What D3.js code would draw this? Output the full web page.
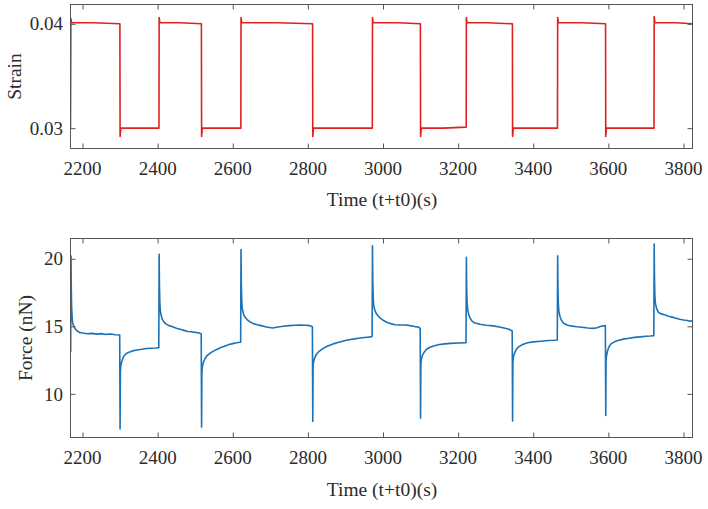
<!DOCTYPE html>
<html>
<head>
<meta charset="utf-8">
<script src="https://cdn.jsdelivr.net/npm/d3@7/dist/d3.min.js"></script>
<style>
  html, body { margin: 0; padding: 0; background: #fff; }
  svg { display: block; }
  text { font-family: "Liberation Serif", "Times New Roman", serif; fill: #2b2b2b; }
</style>
</head>
<body>
<svg id="chart" width="708" height="509"></svg>
<script>
// ---------- data ----------
const timeTicks = [2200, 2400, 2600, 2800, 3000, 3200, 3400, 3600, 3800];
const strainTicks = [0.03, 0.04];
const forceTicks = [10, 15, 20];

const strainTime = [2168, 2169, 2171, 2230, 2299.5, 2300, 2302, 2350, 2403.5, 2404, 2406, 2460, 2516.5, 2517, 2519, 2570, 2621.5, 2622, 2624, 2720, 2812.5, 2813, 2815, 2890, 2971.5, 2972, 2974, 3040, 3099.5, 3100, 3102, 3160, 3221.5, 3222, 3224, 3280, 3344.5, 3345, 3347, 3400, 3464.5, 3465, 3467, 3530, 3592.5, 3593, 3595, 3660, 3721.5, 3722, 3724, 3780, 3824];
const strainValue = [0.0300, 0.0405, 0.0401, 0.0401, 0.0400, 0.0292, 0.0300, 0.0300, 0.0300, 0.0406, 0.0401, 0.0401, 0.0400, 0.0292, 0.0300, 0.0300, 0.0300, 0.0406, 0.0401, 0.0401, 0.0400, 0.0292, 0.0300, 0.0300, 0.0300, 0.0406, 0.0401, 0.0401, 0.0400, 0.0292, 0.0300, 0.0300, 0.0301, 0.0406, 0.0401, 0.0401, 0.0400, 0.0292, 0.0300, 0.0300, 0.0300, 0.0406, 0.0401, 0.0401, 0.0400, 0.0292, 0.0300, 0.0300, 0.0300, 0.0407, 0.0401, 0.0401, 0.0400];

const forceTime = [
  2168.5, 2169.3, 2170, 2171, 2172.5, 2174, 2177, 2181, 2186, 2192, 2200, 2212, 2225, 2238, 2250, 2262, 2275, 2287, 2299,
  2300, 2300.8, 2302, 2305, 2309, 2315, 2322, 2333, 2345, 2358, 2370, 2383, 2395, 2403,
  2404, 2404.8, 2405.8, 2407, 2409, 2412, 2416, 2422, 2430, 2440, 2450, 2460, 2470, 2480, 2490, 2500, 2508, 2516,
  2517, 2517.8, 2519, 2522, 2526, 2531, 2540, 2550, 2560, 2570, 2580, 2590, 2600, 2610, 2621,
  2622, 2622.8, 2623.8, 2625, 2628, 2632, 2638, 2645, 2655, 2665, 2675, 2690, 2706, 2720, 2735, 2750, 2765, 2780, 2795, 2805, 2812,
  2813, 2813.8, 2815, 2818, 2822, 2830, 2840, 2850, 2860, 2870, 2880, 2892, 2905, 2920, 2935, 2950, 2962, 2971,
  2972, 2972.8, 2973.8, 2975, 2978, 2983, 2991, 3000, 3010, 3020, 3032, 3045, 3060, 3072, 3085, 3094, 3099,
  3100, 3100.8, 3102, 3105, 3110, 3116, 3125, 3135, 3150, 3165, 3180, 3200, 3221,
  3222, 3222.8, 3223.8, 3225, 3228, 3232, 3237, 3245, 3258, 3275, 3293, 3310, 3325, 3335, 3344,
  3345, 3345.8, 3347, 3350, 3355, 3362, 3372, 3385, 3400, 3420, 3440, 3455, 3464,
  3465, 3465.8, 3466.8, 3468, 3471, 3475, 3481, 3490, 3500, 3516, 3530, 3545, 3560, 3570, 3580, 3592,
  3593, 3593.8, 3595, 3598, 3602, 3608, 3616, 3628, 3640, 3655, 3670, 3685, 3700, 3712, 3721,
  3722, 3722.8, 3723.8, 3725, 3728, 3733, 3740, 3750, 3760, 3770, 3780, 3790, 3800, 3810, 3817, 3824];
const forceValue = [
  13.1, 20.2, 18.0, 16.4, 15.6, 15.2, 15.0, 14.8, 14.65, 14.55, 14.5, 14.45, 14.48, 14.42, 14.46, 14.4, 14.43, 14.38, 14.36,
  7.4, 11.6, 12.1, 12.45, 12.75, 12.95, 13.07, 13.18, 13.25, 13.3, 13.36, 13.38, 13.4, 13.42,
  20.33, 18.0, 16.8, 16.2, 15.85, 15.55, 15.35, 15.18, 15.05, 14.97, 14.85, 14.78, 14.7, 14.62, 14.6, 14.55, 14.52, 14.45,
  7.54, 11.6, 12.0, 12.35, 12.6, 12.82, 13.02, 13.18, 13.32, 13.45, 13.55, 13.65, 13.72, 13.78, 13.82,
  20.69, 18.2, 17.0, 16.4, 15.95, 15.7, 15.5, 15.34, 15.2, 15.12, 15.05, 14.95, 14.88, 14.95, 15.0, 15.05, 15.08, 15.1, 15.08, 15.05, 14.97,
  7.95, 12.0, 12.35, 12.65, 12.9, 13.15, 13.35, 13.5, 13.62, 13.72, 13.8, 13.9, 13.99, 14.05, 14.12, 14.17, 14.2, 14.24,
  20.96, 18.4, 17.2, 16.6, 16.2, 15.9, 15.65, 15.45, 15.3, 15.2, 15.12, 15.1, 15.1, 15.05, 14.98, 14.95, 14.85,
  8.2, 12.2, 12.55, 12.85, 13.1, 13.3, 13.45, 13.55, 13.65, 13.7, 13.74, 13.77, 13.79,
  20.1, 17.8, 16.8, 16.3, 15.9, 15.6, 15.38, 15.25, 15.15, 15.08, 15.03, 14.95, 14.85, 14.78, 14.66,
  8.0, 12.3, 12.7, 13.0, 13.3, 13.5, 13.65, 13.78, 13.85, 13.9, 13.95, 13.97, 13.99,
  20.22, 17.8, 16.7, 16.15, 15.75, 15.45, 15.22, 15.1, 15.03, 14.97, 14.93, 14.88, 14.85, 14.9, 15.0, 15.05,
  8.4, 12.4, 12.8, 13.2, 13.5, 13.72, 13.85, 13.97, 14.05, 14.12, 14.18, 14.22, 14.26, 14.28, 14.31,
  21.09, 18.6, 17.3, 16.75, 16.35, 16.05, 15.92, 15.85, 15.75, 15.68, 15.6, 15.52, 15.47, 15.43, 15.38, 15.42];

// ---------- layout ----------
const svg = d3.select("#chart");
const xLeft = 70.5, xRight = 692.5;
const x = d3.scaleLinear().domain([2168, 3824]).range([xLeft, xRight]);

const panels = [
  { top: 4.5, bottom: 148.5, domain: [0.02805, 0.04185], ticks: strainTicks, fmt: d3.format(".2f"),
    times: strainTime, values: strainValue, color: "#e0201e", ylabel: "Strain", ylabelX: 21,
    xTickY: 175, xTitleY: 206 },
  { top: 238.5, bottom: 437.5, domain: [6.77, 21.5], ticks: forceTicks, fmt: d3.format("d"),
    times: forceTime, values: forceValue, color: "#1a72b8", ylabel: "Force (nN)", ylabelX: 32,
    xTickY: 464, xTitleY: 496 }
];

const tickLen = 5;
const frameColor = "#555";

panels.forEach((p, pi) => {
  const y = d3.scaleLinear().domain(p.domain).range([p.bottom, p.top]);
  const g = svg.append("g");

  const clipId = "clip" + pi;
  svg.append("clipPath").attr("id", clipId).append("rect")
    .attr("x", xLeft).attr("y", p.top).attr("width", xRight - xLeft).attr("height", p.bottom - p.top);
  const pts = p.times.map((t, i) => [t, p.values[i]]);
  g.append("path")
    .datum(pts)
    .attr("clip-path", `url(#${clipId})`)
    .attr("fill", "none")
    .attr("stroke", p.color)
    .attr("stroke-width", 1.6)
    .attr("stroke-linejoin", "round")
    .attr("d", d3.line().x(d => x(d[0])).y(d => y(d[1])));

  const xb = d3.axisBottom(x).tickValues(timeTicks).tickSizeInner(-tickLen).tickSizeOuter(0).tickFormat("");
  const gx = g.append("g").attr("transform", `translate(0,${p.bottom})`).call(xb);
  gx.select(".domain").remove();
  gx.selectAll("line").attr("stroke", frameColor);
  const xt = d3.axisTop(x).tickValues(timeTicks).tickSizeInner(-tickLen).tickSizeOuter(0).tickFormat("");
  const gxt = g.append("g").attr("transform", `translate(0,${p.top})`).call(xt);
  gxt.select(".domain").remove();
  gxt.selectAll("line").attr("stroke", frameColor);

  g.selectAll(".xtl").data(timeTicks).enter().append("text")
    .attr("x", d => x(d)).attr("y", p.xTickY)
    .attr("text-anchor", "middle").attr("font-size", 19).text(d => d);

  const yl = d3.axisLeft(y).tickValues(p.ticks).tickSizeInner(-tickLen).tickSizeOuter(0).tickFormat("");
  const gyl = g.append("g").attr("transform", `translate(${xLeft},0)`).call(yl);
  gyl.select(".domain").remove();
  gyl.selectAll("line").attr("stroke", frameColor);
  const yr = d3.axisRight(y).tickValues(p.ticks).tickSizeInner(-tickLen).tickSizeOuter(0).tickFormat("");
  const gyr = g.append("g").attr("transform", `translate(${xRight},0)`).call(yr);
  gyr.select(".domain").remove();
  gyr.selectAll("line").attr("stroke", frameColor);

  g.selectAll(".ytl").data(p.ticks).enter().append("text")
    .attr("x", 63).attr("y", d => y(d)).attr("dy", "0.35em")
    .attr("text-anchor", "end").attr("font-size", 19).text(d => p.fmt(d));

  g.append("rect").attr("x", xLeft).attr("y", p.top)
    .attr("width", xRight - xLeft).attr("height", p.bottom - p.top)
    .attr("fill", "none").attr("stroke", frameColor).attr("stroke-width", 1);

  g.append("text").attr("x", 382).attr("y", p.xTitleY)
    .attr("text-anchor", "middle").attr("font-size", 19.5).text("Time (t+t0)(s)");
  g.append("text")
    .attr("transform", `translate(${p.ylabelX},${(p.top + p.bottom) / 2}) rotate(-90)`)
    .attr("text-anchor", "middle").attr("font-size", 19.5).text(p.ylabel);
});
</script>
</body>
</html>
